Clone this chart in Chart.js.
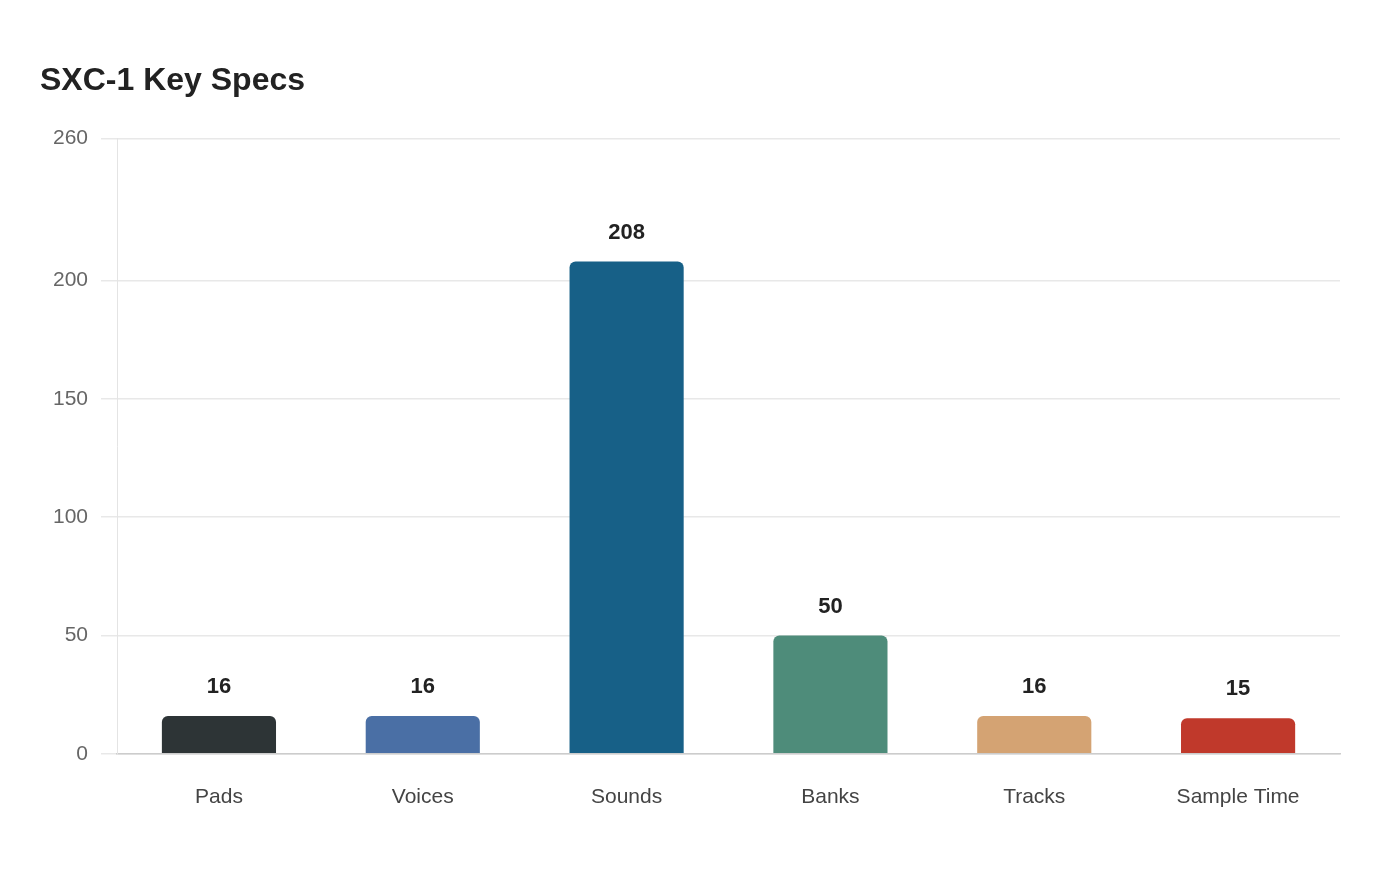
<!DOCTYPE html>
<html>
<head>
<meta charset="utf-8">
<script src="https://cdn.jsdelivr.net/npm/chart.js@4"></script>
<style>
html,body{margin:0;padding:0;background:#fff;}
#wrap{width:1400px;height:880px;}
</style>
</head>
<body>
<div id="wrap"><canvas id="c" width="1400" height="880"></canvas></div>
<script>
const categories = ["Pads", "Voices", "Sounds", "Banks", "Tracks", "Sample Time"];
const values = [16, 16, 208, 50, 16, 15];
const barColors = ["#2d3436", "#4a6fa5", "#176087", "#4e8c7a", "#d4a373", "#c0392b"];
const yTicks = [0, 50, 100, 150, 200, 260];
const titleText = "SXC-1 Key Specs";
const FONT = '"Liberation Sans", Arial, sans-serif';

const valueLabels = {
  id: 'valueLabels',
  afterDatasetsDraw(chart) {
    const ctx = chart.ctx;
    const meta = chart.getDatasetMeta(0);
    ctx.save();
    ctx.font = 'bold 22px ' + FONT;
    ctx.fillStyle = '#222';
    ctx.textAlign = 'center';
    ctx.textBaseline = 'middle';
    meta.data.forEach((bar, i) => {
      ctx.fillText(String(values[i]), bar.x, bar.y - 29);
    });
    ctx.restore();
  }
};

new Chart(document.getElementById('c'), {
  type: 'bar',
  data: {
    labels: categories,
    datasets: [{
      data: values,
      backgroundColor: barColors,
      borderRadius: {topLeft: 6, topRight: 6, bottomLeft: 0, bottomRight: 0},
      borderSkipped: 'bottom',
      categoryPercentage: 0.8,
      barPercentage: 0.7
    }]
  },
  options: {
    responsive: false,
    animation: false,
    devicePixelRatio: 1,
    layout: {padding: {left: 40, right: 60, top: 40, bottom: 39}},
    plugins: {
      legend: {display: false},
      tooltip: {enabled: false},
      title: {
        display: true,
        text: titleText,
        align: 'start',
        color: '#222',
        font: {family: FONT, size: 32, weight: 'bold'},
        padding: {top: 22, bottom: 38}
      }
    },
    scales: {
      x: {
        grid: {display: false, drawTicks: false},
        border: {display: true, color: '#cccccc', width: 1.5},
        ticks: {
          color: '#444',
          padding: 31,
          font: {family: FONT, size: 21}
        }
      },
      y: {
        min: 0,
        max: 260,
        afterBuildTicks(axis) {
          axis.ticks = yTicks.map(v => ({value: v}));
        },
        grid: {color: '#e8e8e8', lineWidth: 1.5, tickLength: 16},
        border: {display: true, color: '#e4e4e4', width: 1},
        ticks: {
          color: '#666',
          padding: 13,
          font: {family: FONT, size: 21}
        }
      }
    }
  },
  plugins: [valueLabels]
});
</script>
</body>
</html>
